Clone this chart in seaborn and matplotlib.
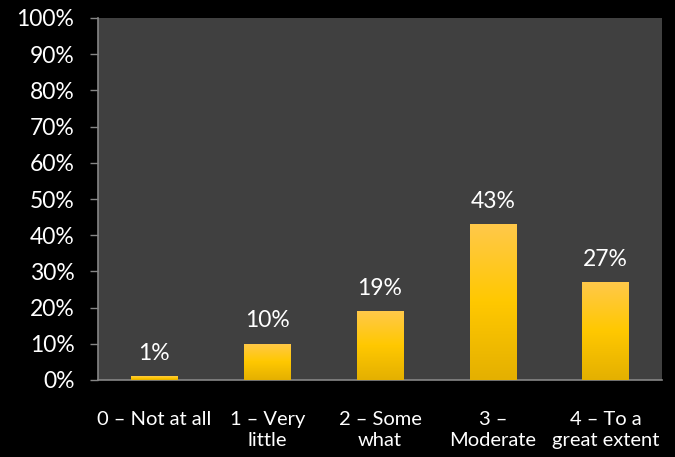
import matplotlib
matplotlib.use("Agg")
import matplotlib.pyplot as plt
import numpy as np
import pandas as pd
import seaborn as sns
from matplotlib.colors import LinearSegmentedColormap

categories = ["0 – Not at all", "1 – Very\nlittle", "2 – Some\nwhat", "3 –\nModerate", "4 – To a\ngreat extent"]
shares = [1, 10, 19, 43, 27]
y_ticks = list(range(0, 101, 10))

sns.set_theme(style="white")
plt.rcParams["font.family"] = ["Lato", "DejaVu Sans"]

df = pd.DataFrame({"category": categories, "share": shares})

fig = plt.figure(figsize=(6.75, 4.57), dpi=100, facecolor="black")
ax = fig.add_axes([98 / 675, 1 - 380 / 457, (662 - 98) / 675, (380 - 18) / 457])
ax.set_facecolor("#404040")

sns.barplot(data=df, x="category", y="share", color="#FFC800", width=0.41,
            linewidth=0, ax=ax, zorder=2)

# gold vertical gradient on each bar
gold = LinearSegmentedColormap.from_list("gold", ["#E4B000", "#FFC800", "#FFC94A"])
grad = np.linspace(0, 1, 256).reshape(-1, 1)
for patch in ax.patches:
    x0, y0 = patch.get_x(), patch.get_y()
    w, h = patch.get_width(), patch.get_height()
    img = ax.imshow(grad, cmap=gold, origin="lower", aspect="auto",
                    extent=[x0, x0 + w, y0, y0 + h], zorder=3)
    img.set_clip_path(patch)
    ax.text(x0 + w / 2, h + 3.5, f"{int(round(h))}%", ha="center", va="bottom",
            color="white", fontsize=16.5)

ax.set_xlim(-0.5, len(categories) - 0.5)
ax.set_ylim(0, 100)
ax.set_yticks(y_ticks)
ax.set_yticklabels([f"{t}%" for t in y_ticks], color="white", fontsize=16.5)
ax.set_xticks(range(len(categories)))
ax.set_xticklabels(categories, color="white", fontsize=14.5, linespacing=1.3)
ax.tick_params(axis="y", length=6, width=1, color="#868686", pad=11, left=True)
ax.tick_params(axis="x", length=0, pad=22)
ax.set_xlabel("")
ax.set_ylabel("")

for side in ["top", "right"]:
    ax.spines[side].set_visible(False)
for side in ["left", "bottom"]:
    ax.spines[side].set_color("#868686")
    ax.spines[side].set_linewidth(1.2)

fig.savefig("out.png", dpi=100, facecolor="black")
